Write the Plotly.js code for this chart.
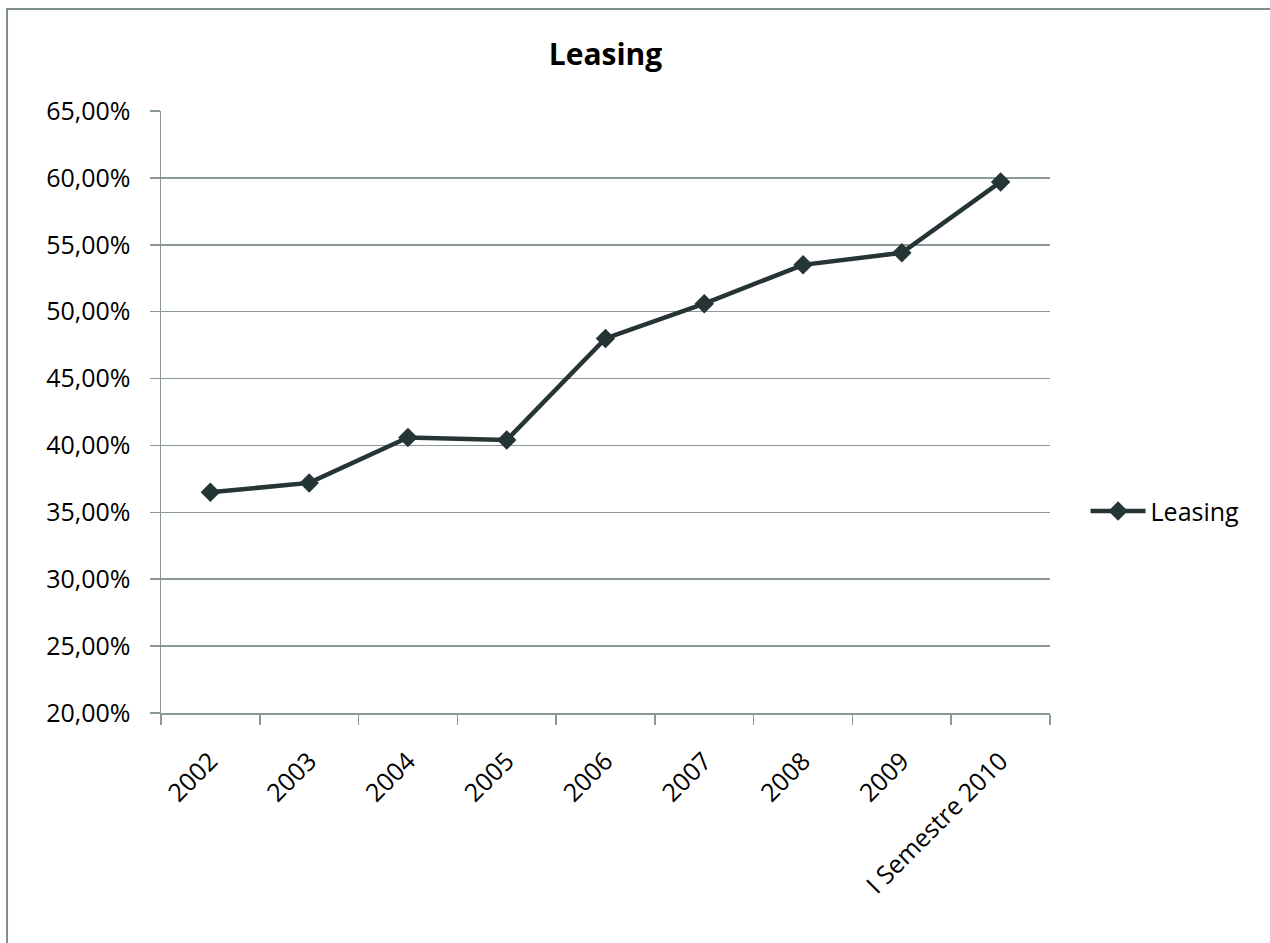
<!DOCTYPE html>
<html>
<head>
<meta charset="utf-8">
<script src="https://cdn.plot.ly/plotly-3.0.1.min.js"></script>
<style>html,body{margin:0;padding:0;background:#fff;}#chart{width:1270px;height:943px;}</style>
</head>
<body>
<div id="chart"></div>
<script>
const categories = ["2002","2003","2004","2005","2006","2007","2008","2009","I Semestre 2010"];
const leasing = [36.5, 37.2, 40.6, 40.4, 48.0, 50.6, 53.5, 54.4, 59.7];
const yTickVals = [20,25,30,35,40,45,50,55,60,65];
const yTickText = ["20,00%","25,00%","30,00%","35,00%","40,00%","45,00%","50,00%","55,00%","60,00%","65,00%"];

const gridCol = "#8a9997";
const font = "Open Sans, Liberation Sans, sans-serif";

const trace = {
  x: categories, y: leasing, type: "scatter", mode: "lines+markers", name: "Leasing",
  line: {color: "#253535", width: 4.5},
  marker: {symbol: "diamond", size: 15, color: "#253535"}
};

const layout = {
  width: 1270, height: 943,
  margin: {l: 161, r: 220, t: 111, b: 230},
  paper_bgcolor: "#fff", plot_bgcolor: "#fff",
  title: {text: "<b>Leasing</b>", font: {family: font, size: 30, color: "#000"}, x: 0.5, xanchor: "center", y: 0.942, yanchor: "middle", xref: "paper"},
  font: {family: font, size: 26, color: "#000"},
  xaxis: {
    type: "category", tickson: "boundaries", ticks: "outside", ticklen: 10, tickcolor: gridCol, tickwidth: 1.5,
    showline: true, linecolor: gridCol, linewidth: 1.5, showgrid: false, tickangle: -45,
    range: [-0.5, 8.5], zeroline: false, ticklabelstandoff: 22,
    tickfont: {family: font, size: 25, color: "#000"}
  },
  yaxis: {
    range: [20, 65], tickvals: yTickVals, ticktext: yTickText, ticks: "outside", ticklen: 10,
    tickcolor: gridCol, tickwidth: 1.5, showline: true, linecolor: gridCol, linewidth: 1.5,
    showgrid: true, gridcolor: gridCol, gridwidth: 1.5, zeroline: false, ticklabelstandoff: 14,
    tickfont: {family: font, size: 25, color: "#000"}
  },
  showlegend: true,
  legend: {x: 1.04, xanchor: "left", y: 0.335, yanchor: "middle", itemwidth: 55, font: {family: font, size: 25, color: "#000"}, bgcolor: "rgba(0,0,0,0)"},
  shapes: [{
    type: "rect", xref: "paper", yref: "paper",
    x0: -0.1732, x1: 1.3, y0: -0.45, y1: 1.1694,
    line: {color: "#7f8f8d", width: 2}, fillcolor: "rgba(0,0,0,0)", layer: "below"
  }]
};

Plotly.newPlot("chart", [trace], layout, {displayModeBar: false, staticPlot: true});
</script>
</body>
</html>
